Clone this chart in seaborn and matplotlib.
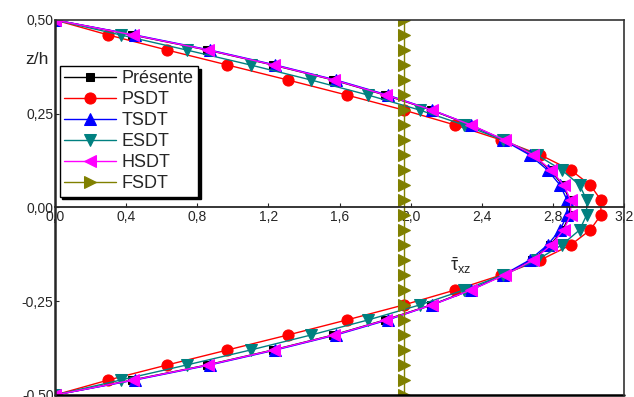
import matplotlib
matplotlib.use("Agg")
import matplotlib.pyplot as plt
import seaborn as sns
import pandas as pd
from matplotlib.ticker import FuncFormatter

# ==========================================
# Data
# ==========================================

z = [0.50, 0.46, 0.42, 0.38, 0.34, 0.30, 0.26, 0.22, 0.18, 0.14, 0.10, 0.06, 0.02,
     -0.02, -0.06, -0.10, -0.14, -0.18, -0.22, -0.26, -0.30, -0.34, -0.38, -0.42, -0.46, -0.50]

presente = [0.00, 0.435, 0.855, 1.225, 1.565, 1.855, 2.115, 2.335, 2.525, 2.685, 2.785, 2.855, 2.895,
            2.895, 2.855, 2.785, 2.685, 2.525, 2.335, 2.115, 1.855, 1.565, 1.225, 0.855, 0.435, 0.00]
psdt = [0.00, 0.30, 0.63, 0.97, 1.31, 1.64, 1.96, 2.25, 2.51, 2.73, 2.90, 3.01, 3.07,
        3.07, 3.01, 2.90, 2.73, 2.51, 2.25, 1.96, 1.64, 1.31, 0.97, 0.63, 0.30, 0.00]
tsdt = [0.00, 0.45, 0.87, 1.24, 1.58, 1.87, 2.12, 2.34, 2.52, 2.67, 2.77, 2.84, 2.88,
        2.88, 2.84, 2.77, 2.67, 2.52, 2.34, 2.12, 1.87, 1.58, 1.24, 0.87, 0.45, 0.00]
esdt = [0.00, 0.37, 0.74, 1.10, 1.44, 1.76, 2.05, 2.30, 2.52, 2.71, 2.85, 2.95, 2.99,
        2.99, 2.95, 2.85, 2.71, 2.52, 2.30, 2.05, 1.76, 1.44, 1.10, 0.74, 0.37, 0.00]
hsdt = [0.00, 0.44, 0.86, 1.23, 1.57, 1.86, 2.12, 2.34, 2.53, 2.69, 2.79, 2.86, 2.90,
        2.90, 2.86, 2.79, 2.69, 2.53, 2.34, 2.12, 1.86, 1.57, 1.23, 0.86, 0.44, 0.00]
fsdt = [1.96, 1.96, 1.96, 1.96, 1.96, 1.96, 1.96, 1.96, 1.96, 1.96, 1.96, 1.96, 1.96,
        1.96, 1.96, 1.96, 1.96, 1.96, 1.96, 1.96, 1.96, 1.96, 1.96, 1.96, 1.96, 1.96]

x_ticks = [0.0, 0.4, 0.8, 1.2, 1.6, 2.0, 2.4, 2.8, 3.2]
y_ticks = [0.50, 0.25, 0.00, -0.25, -0.50]

series = [
    ("Présente", presente, "black", "s", 6),
    ("PSDT", psdt, "#ff0000", "o", 8),
    ("TSDT", tsdt, "#0000ff", "^", 8),
    ("ESDT", esdt, "#008080", "v", 8),
    ("HSDT", hsdt, "#ff00ff", "<", 8.5),
    ("FSDT", fsdt, "#808000", ">", 8),
]

# ==========================================
# Style
# ==========================================

sns.set_style("ticks")
plt.rcParams["font.family"] = ["Liberation Sans", "DejaVu Sans"]
plt.rcParams["mathtext.fontset"] = "custom"
plt.rcParams["mathtext.rm"] = "Liberation Sans"
plt.rcParams["mathtext.it"] = "Liberation Sans"

fig = plt.figure(figsize=(6.34, 3.97), dpi=100)
ax = fig.add_axes([55 / 634, 2 / 397, 569 / 634, 375 / 397])

for name, values, color, marker, size in series:
    df = pd.DataFrame({"tau": values, "z": z})
    sns.lineplot(
        data=df,
        x="tau",
        y="z",
        sort=False,
        estimator=None,
        color=color,
        marker=marker,
        markersize=size,
        markeredgecolor=color,
        linewidth=1,
        label=name,
        ax=ax,
    )

ax.set_xlim(0, 3.2)
ax.set_ylim(-0.5, 0.5)
ax.set_xticks(x_ticks)
ax.set_yticks(y_ticks)

comma = lambda fmt: FuncFormatter(lambda v, p: (fmt % v).replace(".", ","))
ax.xaxis.set_major_formatter(comma("%.1f"))
ax.yaxis.set_major_formatter(comma("%.2f"))

ax.spines["bottom"].set_position(("data", 0))
ax.spines["bottom"].set_linewidth(1.3)
ax.spines["left"].set_linewidth(1.8)
for side in ["top", "right"]:
    ax.spines[side].set_visible(True)
    ax.spines[side].set_linewidth(1.2)
    ax.spines[side].set_color("#333333")

# frame line at the bottom
ax.plot([0, 1], [0, 0], transform=ax.transAxes, color="black",
        linewidth=1.8, clip_on=False)

ax.tick_params(axis="x", direction="in", length=3, pad=2, labelsize=10)
ax.tick_params(axis="y", direction="in", length=3, pad=1, labelsize=10)

ax.set_xlabel("")
ax.set_ylabel("")

fig.text(25 / 634, 1 - 60 / 397, "z/h", fontsize=12.5, ha="left", va="center")
ax.text(2.28, -0.155, r"$\bar{\tau}_{\mathrm{xz}}$", fontsize=13, ha="center", va="center")

leg = ax.legend(
    loc="upper left",
    bbox_to_anchor=(0.008, 0.878),
    borderaxespad=0,
    fontsize=13,
    handlelength=2.9,
    handletextpad=0.3,
    labelspacing=0.22,
    borderpad=0.25,
    frameon=True,
    fancybox=False,
    shadow={"color": "black", "alpha": 1},
)
leg.get_frame().set_edgecolor("black")
leg.get_frame().set_linewidth(1)
leg.get_frame().set_alpha(1)

plt.savefig("out.png", dpi=100)
plt.close()
